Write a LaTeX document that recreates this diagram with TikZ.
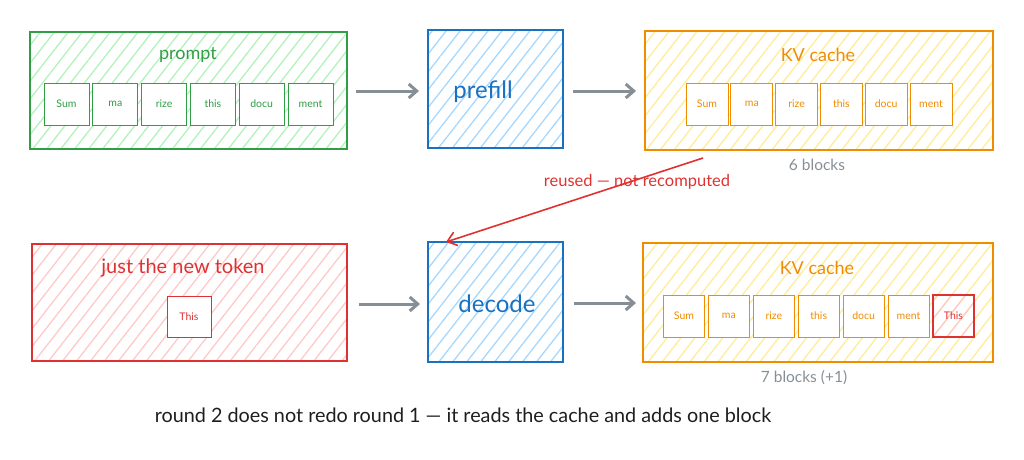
\documentclass[tikz,border=0pt]{standalone}
\usepackage{fontspec}
\setmainfont{Lato}
\usetikzlibrary{patterns.meta,arrows.meta,calc}
\definecolor{cgreen}{HTML}{2F9E44}
\definecolor{fgreen}{HTML}{B2F2BB}
\definecolor{cblue}{HTML}{1971C2}
\definecolor{fblue}{HTML}{A5D8FF}
\definecolor{corange}{HTML}{F08C00}
\definecolor{forange}{HTML}{FFEC99}
\definecolor{cred}{HTML}{E03131}
\definecolor{fred}{HTML}{FFC9C9}
\definecolor{cgray}{HTML}{868E96}
\definecolor{ctext}{HTML}{1E1E1E}
\tikzset{
  hatch/.style={pattern={Lines[angle=52,distance=11pt,line width=1.3pt]},pattern color=#1},
  bigbox/.style={draw,line width=2pt,inner sep=0pt},
  tok/.style={draw,line width=1pt,fill=white,inner sep=0pt,font=\fontsize{10.5}{12}\selectfont},
  title/.style={font=\fontsize{18}{20}\selectfont},
  flow/.style={draw=cgray,line width=3pt,-{Straight Barb[length=8pt,width=14pt,line width=3pt]},shorten <=8pt,shorten >=8pt},
}
\begin{document}
\begin{tikzpicture}[x=1pt,y=-1pt]
\useasboundingbox (0,0) rectangle (1024,459);
% big boxes
\node[bigbox,draw=cgreen,hatch=fgreen,minimum width=317pt,minimum height=117pt] (prompt) at (188.5,90.5) {};
\node[bigbox,draw=cblue,hatch=fblue,minimum width=135pt,minimum height=118pt] (prefill) at (495.5,89) {};
\node[bigbox,draw=corange,hatch=forange,minimum width=348pt,minimum height=119pt] (kvA) at (819,90.5) {};
\node[bigbox,draw=cred,hatch=fred,minimum width=315pt,minimum height=117pt] (newtok) at (189.5,302.5) {};
\node[bigbox,draw=cblue,hatch=fblue,minimum width=135pt,minimum height=120pt] (decode) at (495.5,302) {};
\node[bigbox,draw=corange,hatch=forange,minimum width=350pt,minimum height=119pt] (kvB) at (818,302.5) {};
% titles
\node[title,text=cgreen] (tprompt) at (188,55) {prompt};
\node[title,text=corange] (tkvA) at (818,55) {KV cache};
\node[title,text=cred,font=\fontsize{20}{22}\selectfont] (tnew) at (183,268) {just the new token};
\node[title,text=corange] (tkvB) at (817,268) {KV cache};
\node[font=\fontsize{24}{26}\selectfont,text=cblue] (tprefill) at (483,92) {prefill};
\node[font=\fontsize{24}{26}\selectfont,text=cblue] (tdecode) at (497,304) {decode};
% prompt tokens
\foreach \t [count=\i from 0] in {Sum,ma,rize,this,docu,ment}
  \node[tok,draw=cgreen,text=cgreen,minimum width=45pt,minimum height=42pt] (p\i) at (66.5+48.8*\i,104) {\t};
% KV A tokens
\foreach \t [count=\i from 0] in {Sum,ma,rize,this,docu,ment}
  \node[tok,draw=corange,text=corange,minimum width=42pt,minimum height=42pt] (a\i) at (707+44.8*\i,104) {\t};
% KV B tokens
\foreach \t [count=\i from 0] in {Sum,ma,rize,this,docu,ment}
  \node[tok,draw=corange,text=corange,minimum width=41pt,minimum height=42pt] (b\i) at (684+44.9*\i,316) {\t};
\node[tok,draw=cred,text=cred,line width=2pt,hatch=fred,minimum width=41pt,minimum height=42pt] (b6) at (953.5,316) {This};
% new token
\node[tok,draw=cred,text=cred,minimum width=44pt,minimum height=41pt] (n0) at (189,316.5) {This};
% footnotes
\node[font=\fontsize{15.5}{17}\selectfont,text=cgray] (cntA) at (817,165) {6 blocks};
\node[font=\fontsize{15.5}{17}\selectfont,text=cgray] (cntB) at (804,378) {7 blocks (+1)};
% flow arrows
\draw[flow] (prompt.east |- 0,91) -- (prefill.west |- 0,91);
\draw[flow,shorten <=9pt] (prefill.east |- 0,91) -- (kvA.west |- 0,91);
\draw[flow,shorten <=11pt,shorten >=7pt] (newtok.east |- 0,304) -- (decode.west |- 0,304);
\draw[flow,shorten <=10pt,shorten >=6pt] (decode.east |- 0,303) -- (kvB.west |- 0,303);
% reuse arrow
\coordinate (rs) at (703,158);
\draw[draw=cred,line width=1.6pt,-{Straight Barb[length=9pt,width=14pt,line width=1.6pt]}] (rs) -- ($(decode.north west)+(19,1)$);
\node[font=\fontsize{16.5}{18}\selectfont,text=cred] (lreuse) at (637,182) {reused — not recomputed};
% caption
\node[font=\fontsize{19.8}{22}\selectfont,text=ctext] (cap) at (463,415) {round 2 does not redo round 1 — it reads the cache and adds one block};
\end{tikzpicture}
\end{document}
